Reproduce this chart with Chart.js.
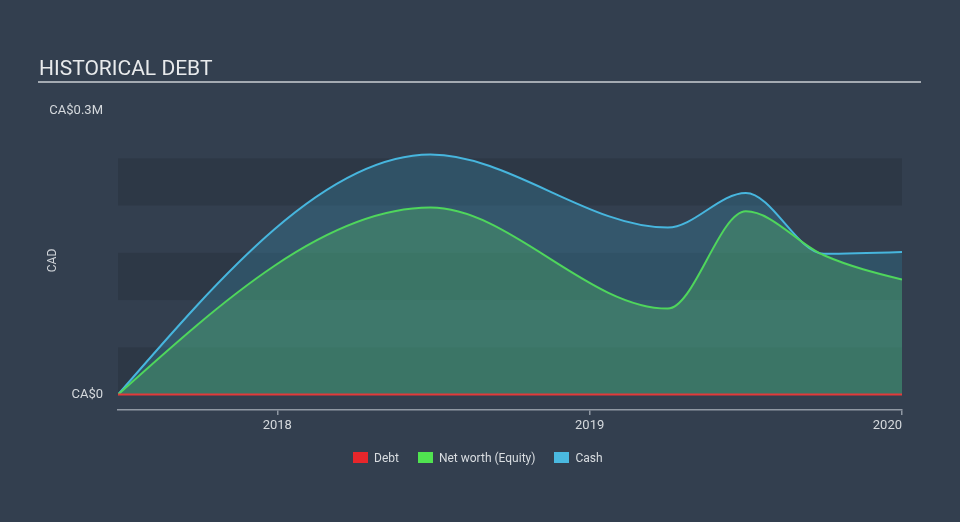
<!DOCTYPE html>
<html>
<head>
<meta charset="utf-8">
<script src="https://cdn.jsdelivr.net/npm/chart.js@4"></script>
<style>
html,body{margin:0;padding:0;background:#333f4f;width:960px;height:522px;overflow:hidden;font-family:Roboto,sans-serif}
#title{position:absolute;left:39px;top:56px;font-size:21px;line-height:25px;color:#e8eaec;white-space:nowrap}
#rule{position:absolute;left:38px;top:81px;width:883px;height:2px;background:#a4aab2}
#chartbox{position:absolute;left:0;top:0;width:960px;height:522px}
#legend{position:absolute;left:353px;top:450px;height:15px;display:flex;align-items:center;font-size:12px;color:#d9dde1;white-space:nowrap}
#legend .item{display:flex;align-items:center;margin-right:19px}
#legend .box{width:15px;height:11px;margin-right:6px}
</style>
</head>
<body>
<div id="chartbox"><canvas id="c" width="960" height="522"></canvas></div>
<div id="title">HISTORICAL DEBT</div>
<div id="rule"></div>
<div id="legend"></div>
<script>
// ---- data ----
const years = [2017.49, 2018.49, 2019.25, 2019.5, 2019.75, 2020.0];
const debt = [0, 0, 0, 0, 0, 0];
const netWorth = [0, 197800, 91000, 193900, 147400, 121700];
const cash = [0, 253900, 176700, 213300, 149000, 150900];
const xTickValues = [2018, 2019, 2020];
const xTickLabels = ['2018', '2019', '2020'];
const yTickValues = [0, 300000];
const yTickLabels = ['CA$0', 'CA$0.3M'];
const bandEdges = [0, 50000, 100000, 150000, 200000, 250000];
const seriesNames = ['Debt', 'Net worth (Equity)', 'Cash'];
const seriesColors = ['#e8262b', '#50e350', '#4ab9e0'];

const toPts = arr => arr.map((v, i) => ({x: years[i], y: v}));

const bands = {
  id: 'bands',
  beforeDatasetsDraw(chart) {
    const {ctx, chartArea, scales: {y}} = chart;
    ctx.save();
    ctx.fillStyle = 'rgba(0,0,0,0.1)';
    for (let i = 0; i < bandEdges.length - 1; i += 2) {
      const t = y.getPixelForValue(bandEdges[i + 1]);
      const b = y.getPixelForValue(bandEdges[i]);
      ctx.fillRect(chartArea.left, t, chartArea.right - chartArea.left, b - t);
    }
    ctx.restore();
  }
};

// monotone-x style tangents (steeper endpoints) applied to the library's own points
const monoX = {
  id: 'monoX',
  beforeDatasetsDraw(chart) {
    chart.getSortedVisibleDatasetMetas().forEach(meta => {
      if (!meta.dataset || meta.dataset.options.cubicInterpolationMode !== 'monotone') return;
      meta.dataset.updateControlPoints(chart.chartArea, 'x');
      const p = meta.data, n = p.length;
      if (n < 3) return;
      const t = new Array(n).fill(0);
      const sgn = v => v < 0 ? -1 : 1;
      for (let i = 1; i < n - 1; i++) {
        const h0 = p[i].x - p[i - 1].x, h1 = p[i + 1].x - p[i].x;
        const s0 = (p[i].y - p[i - 1].y) / h0, s1 = (p[i + 1].y - p[i].y) / h1;
        const q = (s0 * h1 + s1 * h0) / (h0 + h1);
        t[i] = (sgn(s0) + sgn(s1)) * Math.min(Math.abs(s0), Math.abs(s1), 0.5 * Math.abs(q)) || 0;
      }
      t[0] = (3 * (p[1].y - p[0].y) / (p[1].x - p[0].x) - t[1]) / 2;
      t[n - 1] = (3 * (p[n - 1].y - p[n - 2].y) / (p[n - 1].x - p[n - 2].x) - t[n - 2]) / 2;
      for (let i = 0; i < n; i++) {
        if (i > 0) { const dx = (p[i].x - p[i - 1].x) / 3; p[i].cp1x = p[i].x - dx; p[i].cp1y = p[i].y - dx * t[i]; }
        if (i < n - 1) { const dx = (p[i + 1].x - p[i].x) / 3; p[i].cp2x = p[i].x + dx; p[i].cp2y = p[i].y + dx * t[i]; }
      }
    });
  }
};

const font = {family: 'Roboto', size: 13};

new Chart(document.getElementById('c'), {
  type: 'line',
  data: {
    datasets: [
      {label: seriesNames[0], data: toPts(debt), borderColor: '#e33a3a', borderWidth: 2, pointRadius: 0, fill: false},
      {label: seriesNames[1], data: toPts(netWorth), borderColor: '#4fd65c', borderWidth: 2, pointRadius: 0,
        cubicInterpolationMode: 'monotone', fill: 'origin', backgroundColor: 'rgba(90,225,108,0.25)'},
      {label: seriesNames[2], data: toPts(cash), borderColor: '#47b6de', borderWidth: 2, pointRadius: 0,
        cubicInterpolationMode: 'monotone', fill: 'origin', backgroundColor: 'rgba(60,185,225,0.2)'}
    ]
  },
  options: {
    responsive: false,
    animation: false,
    events: [],
    layout: {padding: {left: 40, right: 58, top: 111, bottom: 82}},
    plugins: {legend: {display: false}, tooltip: {enabled: false}},
    scales: {
      x: {
        type: 'linear', min: years[0], max: years[years.length - 1],
        afterBuildTicks: s => { s.ticks = [{value: years[0]}].concat(xTickValues.map(v => ({value: v}))); },
        afterFit: s => { s.height = 30; },
        ticks: {
          align: 'inner', autoSkip: false, maxRotation: 0, padding: 3, color: '#d5d9dd', font,
          callback: v => { const i = xTickValues.indexOf(v); return i >= 0 ? xTickLabels[i] : ''; }
        },
        grid: {drawOnChartArea: false, drawTicks: true, tickLength: 5, lineWidth: 1.5,
          color: '#8f98a3', tickColor: ctx => ctx.index === 0 ? 'rgba(0,0,0,0)' : '#8f98a3'},
        border: {display: true, color: '#8f98a3', width: 1.5}
      },
      y: {
        min: -16300, max: 300000,
        afterBuildTicks: s => { s.ticks = yTickValues.map(v => ({value: v})); },
        afterFit: s => { s.width = 78; },
        ticks: {padding: 15, color: '#d5d9dd', font,
          callback: v => { const i = yTickValues.indexOf(v); return i >= 0 ? yTickLabels[i] : ''; }},
        grid: {display: false, drawTicks: false},
        border: {display: false},
        title: {display: true, text: 'CAD', color: '#cfd3d8', font: {family: 'Roboto', size: 12}, padding: {top: 6, bottom: 0}}
      }
    }
  },
  plugins: [bands, monoX]
});

const lg = document.getElementById('legend');
seriesNames.forEach((n, i) => {
  const it = document.createElement('div'); it.className = 'item';
  const b = document.createElement('div'); b.className = 'box'; b.style.background = seriesColors[i];
  const t = document.createElement('span'); t.textContent = n;
  it.appendChild(b); it.appendChild(t); lg.appendChild(it);
});
</script>
</body>
</html>
